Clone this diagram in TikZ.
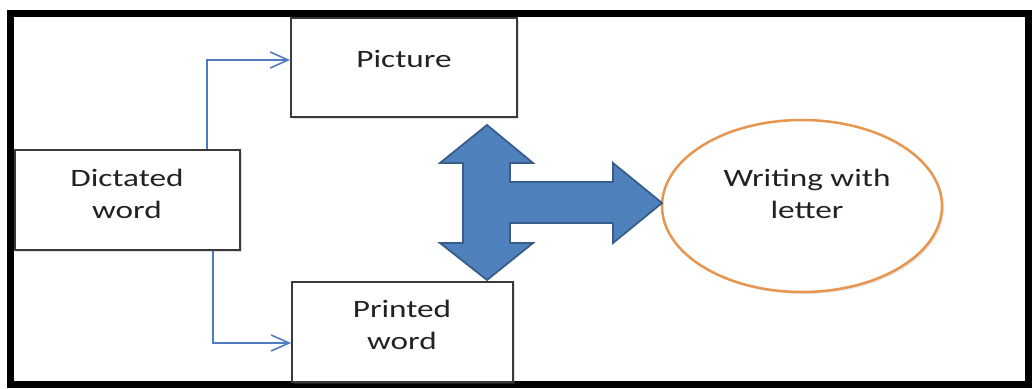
\documentclass[tikz,border=0pt]{standalone}
\usepackage{fontspec}
\setmainfont{Carlito}[FakeStretch=1.33]
\usetikzlibrary{arrows.meta,shapes.geometric,shadows}
\definecolor{boxline}{HTML}{3A3A3A}
\definecolor{conn}{HTML}{4F7BBE}
\definecolor{bigfill}{HTML}{4F81BD}
\definecolor{bigline}{HTML}{385D8A}
\definecolor{orng}{HTML}{E8954E}
\definecolor{txt}{HTML}{222222}
\tikzset{
  boxnode/.style={draw=boxline, line width=1.8pt, fill=white, minimum width=#1, inner sep=0pt,
     drop shadow={opacity=0.25, shadow xshift=2pt, shadow yshift=-2pt}},
  lbl/.style={text=txt, font=\fontsize{25}{32}\selectfont, align=center, inner sep=0pt},
  conline/.style={draw=conn, line width=1.6pt, -{Straight Barb[length=18pt,width=16pt,line width=1.6pt]}},
}
\begin{document}
\begin{tikzpicture}[x=1pt,y=-1pt]
\useasboundingbox (0,0) rectangle (1032,388);
\fill[white] (0,0) rectangle (1032,388);
\draw[line width=7pt] (10,13.5) rectangle (1028,384) coordinate (frameBR);
% boxes
\node[boxnode=226pt, minimum height=99pt] (picture) at (404,67.5) {};
\node[boxnode=225pt, minimum height=100pt] (dictated) at (127.5,200) {};
\node[boxnode=221pt, minimum height=100pt] (printed) at (402.5,332) {};
% texts
\node[lbl] (tpicture) at (404,59) {Picture};
\node[lbl] (tdictated) at (127,194) {Dictated\\word};
\node[lbl] (tprinted) at (402,325) {Printed\\word};
% ellipse
\node[ellipse, draw=orng, line width=2.5pt, fill=white, minimum width=280pt, minimum height=172pt,
  drop shadow={opacity=0.2, shadow xshift=2pt, shadow yshift=-2pt}] (writing) at (802,206) {};
\node[lbl] (twriting) at (807,194) {Writing with\\letter};
% connectors
\coordinate (c1) at (207,60);
\coordinate (c2) at (213,343);
\draw[conline] (dictated.north -| c1) -- (c1) -- (c1 -| picture.west);
\draw[conline] (dictated.south -| c2) -- (c2) -- (c2 -| printed.west);
% big three-way arrow
\draw[fill=bigfill, draw=bigline, line width=1.8pt, line join=miter]
  (487,125) -- (533,163) -- (510,163) -- (510,182) -- (613,182) -- (613,163)
  -- (662,203) -- (613,243) -- (613,223) -- (510,223) -- (510,243) -- (533,243)
  -- (487,280) -- (440,243) -- (463,243) -- (463,163) -- (440,163) -- cycle;
\end{tikzpicture}
\end{document}
